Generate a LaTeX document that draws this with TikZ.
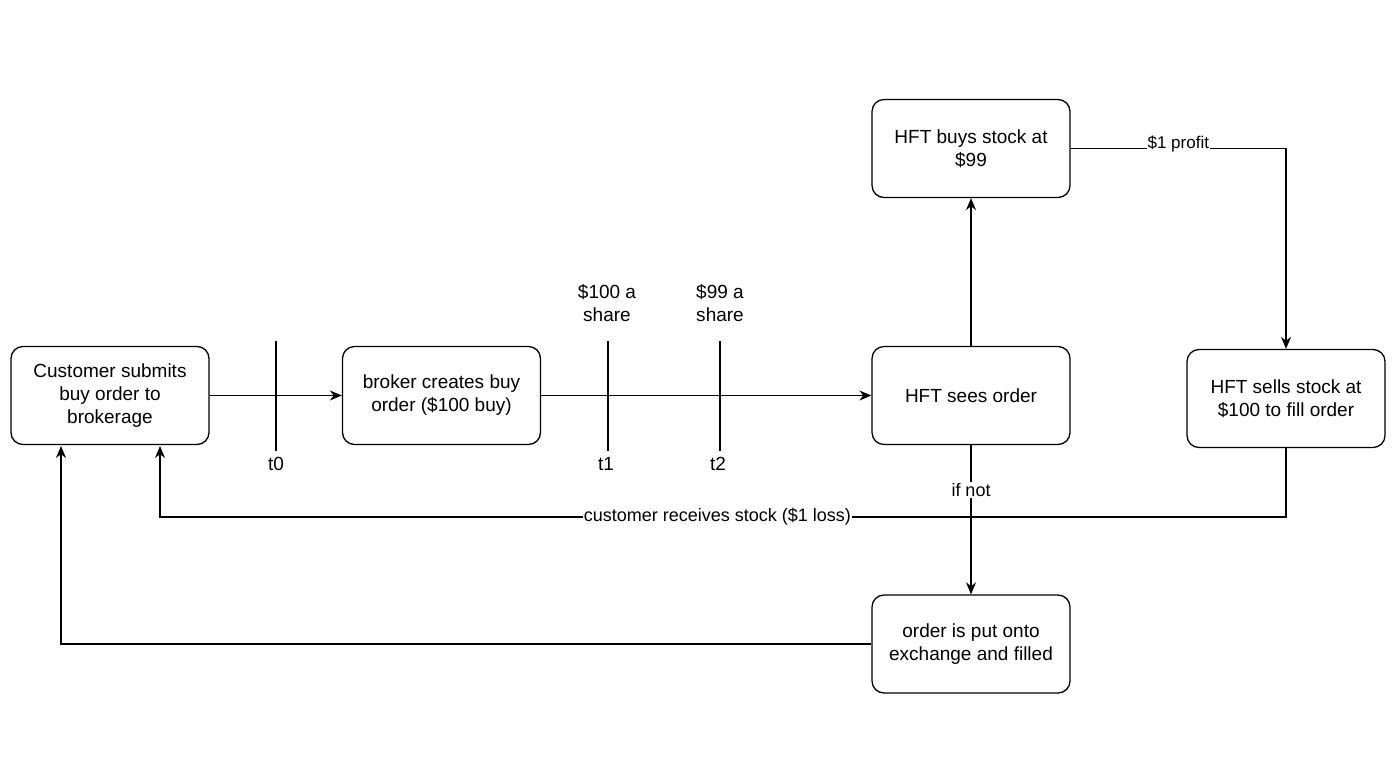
\documentclass[tikz,border=0pt]{standalone}
\usepackage{fontspec}
\setmainfont{Liberation Sans}
\usetikzlibrary{arrows.meta}
\begin{document}
\begin{tikzpicture}[x=0.5pt,y=-0.5pt,
  box/.style={draw,rounded corners=6pt,line width=0.65pt,minimum width=99pt,minimum height=49pt,align=center,font=\fontsize{9.5}{11.5}\selectfont,inner sep=2pt},
  arr/.style={-{Stealth[length=6pt,width=5pt]},line width=0.65pt},
  lab/.style={font=\fontsize{9.5}{11.5}\selectfont,align=center},
  el/.style={font=\fontsize{8.5}{10}\selectfont,fill=white,inner sep=0.5pt}]
\useasboundingbox (0,0) rectangle (1400,760);
\node[box] (cust) at (110,395.5) {Customer submits\\buy order to\\brokerage};
\node[box] (brok) at (441.5,395.5) {broker creates buy\\order (\$100 buy)};
\node[box] (sees) at (971,395.5) {HFT sees order};
\node[box] (buys) at (971,148.5) {HFT buys stock at\\\$99};
\node[box] (sells) at (1286,398.5) {HFT sells stock at\\\$100 to fill order};
\node[box] (exch) at (971,644) {order is put onto\\exchange and filled};
\foreach \x/\n in {276/a,608/b,720/c}{
  \coordinate (\n1) at (\x,341); \coordinate (\n2) at (\x,451);
  \draw[line width=0.65pt] (\n1) -- (\n2);}
\node[lab] (t0) at (276,464) {t0};
\node[lab] (t1) at (606,464) {t1};
\node[lab] (t2) at (718,464) {t2};
\node[lab] (p100) at (607,303) {\$100 a\\share};
\node[lab] (p99) at (720,303) {\$99 a\\share};
\draw[arr] (cust.east) -- (brok.west);
\draw[arr] (brok.east) -- (sees.west);
\draw[arr] (sees.north) -- (buys.south);
\draw[arr] (buys.east) -| node[el,pos=0.25,yshift=2.5pt]{\$1 profit} (sells.north);
\coordinate (c1) at (160,446);
\coordinate (k1) at (1286,517);
\coordinate (k2) at (160,517);
\draw[arr] (sells.south) -- (k1) -- node[el,pos=0.505,font=\fontsize{9}{11}\selectfont]{customer receives stock (\$1 loss)} (k2) -- (c1);
\draw[arr] (sees.south) -- node[el,pos=0.30,font=\fontsize{9}{11}\selectfont]{if not} (exch.north);
\coordinate (c2) at (61,446);
\draw[arr] (exch.west) -| (c2);
\end{tikzpicture}
\end{document}
